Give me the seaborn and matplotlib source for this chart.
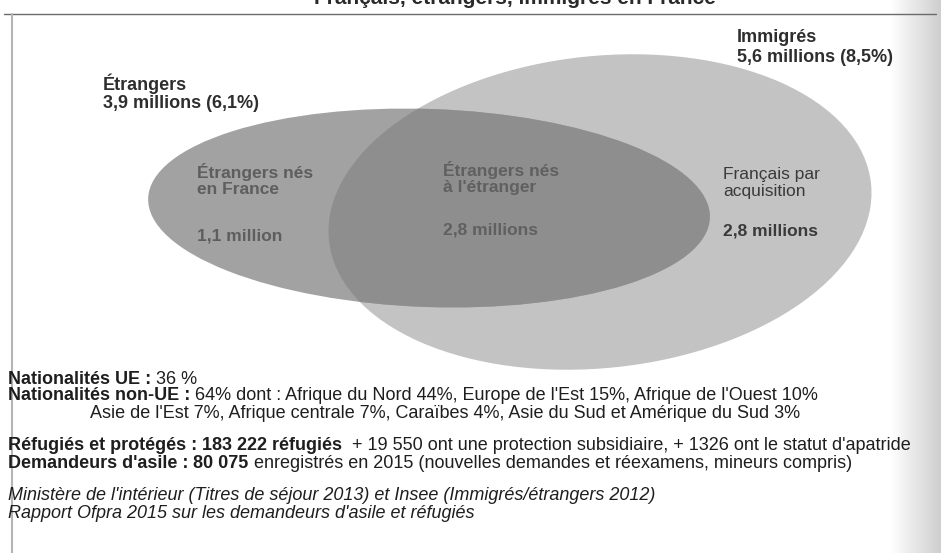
import numpy as np
import matplotlib
matplotlib.use("Agg")
import matplotlib.pyplot as plt
from matplotlib.patches import Ellipse
import seaborn as sns

groupes = ["Étrangers", "Immigrés"]
groupes_effectifs = [3.9, 5.6]          # millions
groupes_parts = [6.1, 8.5]              # % de la population
zones = ["Étrangers nés\nen France", "Étrangers nés\nà l'étranger", "Français par\nacquisition"]
zones_effectifs = [1.1, 2.8, 2.8]       # millions

part_ue = 36
part_hors_ue = 64
regions_hors_ue = ["Afrique du Nord", "Europe de l'Est", "Afrique de l'Ouest", "Asie de l'Est",
                   "Afrique centrale", "Caraïbes", "Asie du Sud et Amérique du Sud"]
regions_parts = [44, 15, 10, 7, 7, 4, 3]

refugies = 183222
protection_subsidiaire = 19550
apatrides = 1326
demandeurs_asile = 80075

sources = ["Ministère de l'intérieur (Titres de séjour 2013) et Insee (Immigrés/étrangers 2012)",
           "Rapport Ofpra 2015 sur les demandeurs d'asile et réfugiés"]


def fr(n, dec=1):
    return f"{n:.{dec}f}".replace(".", ",")


def milliers(n):
    return f"{n:,}".replace(",", " ")


sns.set_theme(style="white")
plt.rcParams['font.family'] = ['Liberation Sans', 'DejaVu Sans']

fig = plt.figure(figsize=(9.41, 5.53), dpi=100)
ax = fig.add_axes([0, 0, 1, 1])
ax.set_xlim(0, 941)
ax.set_ylim(553, 0)
ax.axis('off')

# bord droit grisé (scan)
degrade = np.linspace(1.0, 0.87, 50)[None, :] ** 1.5
ax.imshow(degrade, extent=(891, 941, 553, 0), cmap='gray', vmin=0, vmax=1, aspect='auto', zorder=0)

# cadre
ax.plot([4, 936], [14, 14], color='#6a6a6a', lw=1.0, zorder=1)
ax.plot([12, 12], [14, 553], color='#b5b5b5', lw=1.5, zorder=1)

# titre coupé en haut (comme sur le scan)
ax.text(515, 4, "Français, étrangers, immigrés en France", ha='center', va='baseline',
        fontsize=15, fontweight='bold', color='#2a2a2a')

# ellipses
grande = Ellipse((600, 212), 545, 312, angle=-6, facecolor='#c3c3c3', edgecolor='none', zorder=2)
petite = Ellipse((429, 208), 562, 198, angle=2, facecolor='#a2a2a2', edgecolor='none', zorder=3)
inter = Ellipse((429, 208), 562, 198, angle=2, facecolor='#8e8e8e', edgecolor='none', zorder=4)
ax.add_patch(grande)
ax.add_patch(petite)
ax.add_patch(inter)
inter.set_clip_path(grande)

# libellés des ensembles
ax.text(737, 38, groupes[1], fontsize=13, fontweight='bold', color='#2e2e2e', va='center')
ax.text(737, 57, f"{fr(groupes_effectifs[1])} millions ({fr(groupes_parts[1])}%)",
        fontsize=13, fontweight='bold', color='#2e2e2e', va='center')
ax.text(103, 84, groupes[0], fontsize=13, fontweight='bold', color='#2e2e2e', va='center')
ax.text(103, 103, f"{fr(groupes_effectifs[0])} millions ({fr(groupes_parts[0])}%)",
        fontsize=13, fontweight='bold', color='#2e2e2e', va='center')

# libellés des zones
zone_x = [197, 443, 723]
zone_y = [180, 178, 183]
val_y = [236, 230, 231]
zone_col = ['#5e5e5e', '#606060', '#3a3a3a']
for i in range(3):
    ax.text(zone_x[i], zone_y[i], zones[i], fontsize=12.5, fontweight='bold' if i < 2 else 'normal',
            color=zone_col[i], va='center', linespacing=1.1, zorder=6)
    unite = "million" if zones_effectifs[i] < 2 else "millions"
    ax.text(zone_x[i], val_y[i], f"{fr(zones_effectifs[i])} {unite}", fontsize=12.5,
            fontweight='bold', color=zone_col[i], va='center', zorder=6)

renderer = fig.canvas.get_renderer()


def ligne(x, y, morceaux, taille=13):
    for texte, poids, style in morceaux:
        t = ax.text(x, y, texte, fontsize=taille, fontweight=poids, fontstyle=style,
                    color='#1e1e1e', va='center')
        bb = t.get_window_extent(renderer=renderer)
        x += bb.width


regions_txt = [f"{r} {p}%" for r, p in zip(regions_hors_ue, regions_parts)]

ligne(8, 379, [("Nationalités UE : ", 'bold', 'normal'), (f"{part_ue} %", 'normal', 'normal')])
ligne(8, 396, [("Nationalités non-UE : ", 'bold', 'normal'),
               (f"{part_hors_ue}% dont : " + ", ".join(regions_txt[:3]), 'normal', 'normal')])
ligne(90, 413, [(", ".join(regions_txt[3:]), 'normal', 'normal')])
ligne(8, 446, [("Réfugiés et protégés : ", 'bold', 'normal'),
               (f"{milliers(refugies)} réfugiés", 'bold', 'normal'),
               (f"  + {milliers(protection_subsidiaire)} ont une protection subsidiaire, + {apatrides} ont le statut d'apatride",
                'normal', 'normal')])
ligne(8, 464, [("Demandeurs d'asile : ", 'bold', 'normal'),
               (milliers(demandeurs_asile), 'bold', 'normal'),
               (" enregistrés en 2015 (nouvelles demandes et réexamens, mineurs compris)", 'normal', 'normal')])
ligne(8, 496, [(sources[0], 'normal', 'italic')])
ligne(8, 513, [(sources[1], 'normal', 'italic')])

fig.savefig("out.png", dpi=100)
